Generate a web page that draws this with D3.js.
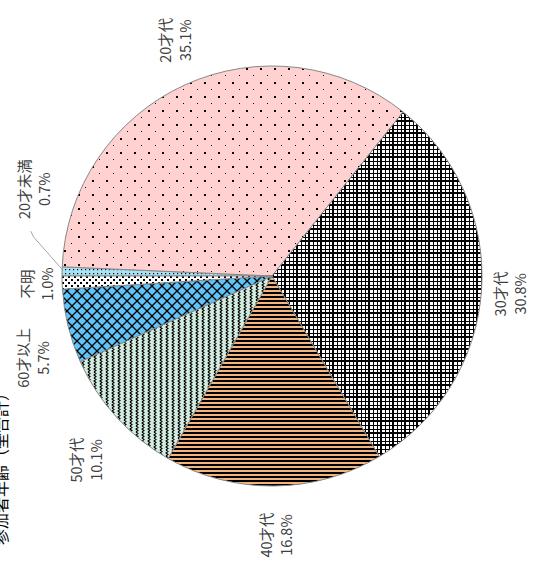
<!DOCTYPE html>
<html><head><meta charset="utf-8">
<script src="https://cdn.jsdelivr.net/npm/d3@7"></script>
<style>body{margin:0;background:#fff;overflow:hidden}</style>
</head><body>
<svg id="c" width="533" height="565"></svg>
<script>
// ---- data ----
const categories = ["20才未満", "20才代", "30才代", "40才代", "50才代", "60才以上", "不明"];
const values = [0.7, 35.1, 30.8, 16.8, 10.1, 5.7, 1.0];
const pctLabels = ["0.7%", "35.1%", "30.8%", "16.8%", "10.1%", "5.7%", "1.0%"];
const title = "参加者年齢（全合計）";

// ---- layout / style ----
const W = 533, H = 565, cx = 272, cy = 276, R = 210;
const font = "'Noto Sans CJK JP','Noto Sans',sans-serif";
const svg = d3.select("#c");
const defs = svg.append("defs");

function pat(id, w, h, bg, draw) {
  const p = defs.append("pattern").attr("id", id).attr("patternUnits", "userSpaceOnUse")
    .attr("width", w).attr("height", h);
  p.append("rect").attr("width", w).attr("height", h).attr("fill", bg);
  draw(p);
}
pat("p0", 4, 4, "#a6e3f7", p => {
  p.append("rect").attr("x", 1).attr("y", 1).attr("width", 1.2).attr("height", 1.2).attr("fill", "#000");
});
pat("p1", 14, 14, "#ffd1d1", p => {
  p.append("rect").attr("x", 2).attr("y", 2).attr("width", 2).attr("height", 2).attr("fill", "#000");
  p.append("rect").attr("x", 9).attr("y", 9).attr("width", 1).attr("height", 1).attr("fill", "#000");
});
pat("p2", 12, 12, "#fff", p => {
  p.append("rect").attr("x", 0).attr("y", 0).attr("width", 12).attr("height", 2).attr("fill", "#000");
  p.append("rect").attr("x", 0).attr("y", 0).attr("width", 2).attr("height", 12).attr("fill", "#000");
  [5, 9].forEach(v => {
    p.append("rect").attr("x", 0).attr("y", v).attr("width", 12).attr("height", 1).attr("fill", "#000");
    p.append("rect").attr("x", v).attr("y", 0).attr("width", 1).attr("height", 12).attr("fill", "#000");
  });
});
pat("p3", 4, 4, "#f3b57c", p => {
  p.append("rect").attr("x", 0).attr("y", 0).attr("width", 4).attr("height", 2).attr("fill", "#000");
});
pat("p4", 6, 6, "#d3ece0", p => {
  p.append("path").attr("d", "M2,0 L4,1.5 L2,3 L4,4.5 L2,6").attr("fill", "none")
    .attr("stroke", "#000").attr("stroke-width", 1.1);
});
pat("p5", 10, 10, "#5ec4fa", p => {
  p.append("path").attr("d", "M0,0 L10,10 M10,0 L0,10").attr("stroke", "#000").attr("stroke-width", 1.3);
});
pat("p6", 6, 6, "#fff", p => {
  p.append("rect").attr("x", 0).attr("y", 0).attr("width", 2).attr("height", 2).attr("fill", "#000");
  p.append("rect").attr("x", 3).attr("y", 3).attr("width", 2).attr("height", 2).attr("fill", "#000");
});

const fills = categories.map((c, i) => `url(#p${i})`);

const pie = d3.pie().sort(null).value(d => d)
  .startAngle(-Math.PI / 2).endAngle(1.5 * Math.PI);
const arcs = pie(values);
const arc = d3.arc().innerRadius(0).outerRadius(R);

const g = svg.append("g").attr("transform", `translate(${cx},${cy})`);
g.selectAll("path.slice").data(arcs).join("path")
  .attr("class", "slice")
  .attr("d", arc)
  .attr("fill", (d, i) => fills[i])
  .attr("stroke", "#888").attr("stroke-width", 1);

// labels (rotated -90°)
const Rx = 237, Ry = 259;
const nudge = { 0: [-16, 0], 4: [-12, 10], 5: [-10, 20] };
arcs.forEach((a, i) => {
  let m = (a.startAngle + a.endAngle) / 2;
  const small = (a.endAngle - a.startAngle) < 0.05;
  if (small) m += 0.32;
  let x = cx + Rx * Math.sin(m), y = cy - Ry * Math.cos(m);
  if (nudge[i]) { x += nudge[i][0]; y += nudge[i][1]; }
  const lg = svg.append("g").attr("transform", `translate(${x},${y}) rotate(-90)`);
  lg.append("text").attr("x", 0).attr("y", -9)
    .attr("text-anchor", "middle").attr("dominant-baseline", "central")
    .attr("font-family", font).attr("font-size", 14.5).attr("fill", "#404040")
    .text(categories[i]);
  lg.append("text").attr("x", 0).attr("y", 11)
    .attr("text-anchor", "middle").attr("dominant-baseline", "central")
    .attr("font-family", font).attr("font-size", 14.5).attr("fill", "#404040")
    .text(pctLabels[i]);
  if (small) {
    const mm = (a.startAngle + a.endAngle) / 2 + 0.01;
    const p0 = [cx + R * Math.sin(mm), cy - R * Math.cos(mm)];
    svg.append("polyline")
      .attr("points", [[x - 2, y + 42], [x + 1, y + 48], p0].map(p => p.join(",")).join(" "))
      .attr("fill", "none").attr("stroke", "#a6a6a6").attr("stroke-width", 1);
  }
});

// title (mostly clipped at left edge, as in the reference)
svg.append("text")
  .attr("transform", `translate(7,465) rotate(-90)`)
  .attr("text-anchor", "middle")
  .attr("font-family", font).attr("font-size", 16).attr("fill", "#000")
  .text(title);
</script>
</body></html>
